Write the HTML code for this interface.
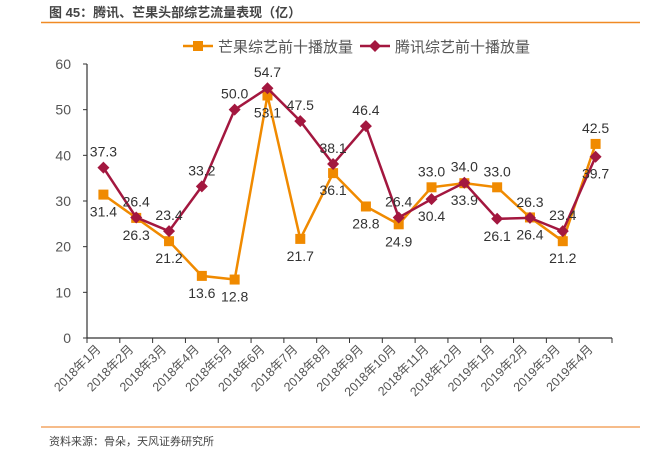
<!DOCTYPE html>
<html><head><meta charset="utf-8"><style>
body{margin:0;background:#fff;width:657px;height:453px;overflow:hidden;font-family:"Liberation Sans","Noto Sans CJK SC",sans-serif}
</style></head><body>
<svg id="c" width="657" height="453" xmlns="http://www.w3.org/2000/svg" font-family="Liberation Sans, Noto Sans CJK SC, sans-serif">
<text x="49" y="17" font-size="13" font-weight="bold" fill="#444">图 45：腾讯、芒果头部综艺流量表现（亿）</text>
<line x1="41" y1="22.5" x2="640" y2="22.5" stroke="#f08a24" stroke-width="1.5"/>
<line x1="41" y1="427" x2="640" y2="427" stroke="#f3a564" stroke-width="1.5"/>
<text x="49" y="445" font-size="11" fill="#444">资料来源：骨朵，天风证券研究所</text>
<g>
<g><line x1="183" y1="46" x2="213" y2="46" stroke="#f08a00" stroke-width="2.5"/><rect x="193" y="41" width="10" height="10" fill="#f08a00"/><text x="218" y="52" font-size="15" fill="#555">芒果综艺前十播放量</text></g>
<g><line x1="360" y1="46" x2="390" y2="46" stroke="#a3173f" stroke-width="2.5"/><polygon points="375,40 381,46 375,52 369,46" fill="#a3173f"/><text x="395" y="52" font-size="15" fill="#555">腾讯综艺前十播放量</text></g>
</g>
<g id="axes"></g><g id="series"></g>
</svg>
<script>
const categories=["2018年1月","2018年2月","2018年3月","2018年4月","2018年5月","2018年6月","2018年7月","2018年8月","2018年9月","2018年10月","2018年11月","2018年12月","2019年1月","2019年2月","2019年3月","2019年4月"];
const mango=[31.4,26.3,21.2,13.6,12.8,53.1,21.7,36.1,28.8,24.9,33.0,33.9,33.0,26.4,21.2,42.5];
const tencent=[37.3,26.4,23.4,33.2,50.0,54.7,47.5,38.1,46.4,26.4,30.4,34.0,26.1,26.3,23.4,39.7];
const yTicks=[0,10,20,30,40,50,60];
// label placement: 1 = above, -1 = below
const mangoPos=[-1,-1,-1,-1,-1,-1,-1,-1,-1,-1,1,-1,1,-1,-1,1];
const tencentPos=[1,1,1,1,1,1,1,1,1,1,-1,1,-1,1,1,-1];
const NS="http://www.w3.org/2000/svg";
const L=87,R=612,T=64,B=338;
const band=(R-L)/categories.length;
const x=i=>L+band*(i+0.5);
const y=v=>B-(v/60)*(B-T);
function mk(tag,attrs,parent){const e=document.createElementNS(NS,tag);for(const k in attrs)e.setAttribute(k,attrs[k]);parent.appendChild(e);return e;}
const ax=document.getElementById('axes');
const yl=mk('line',{x1:L,y1:T,x2:L,y2:B,stroke:'#333','stroke-width':1.2},ax);


const xl=mk('line',{x1:L,y1:B,x2:R,y2:B,stroke:'#333','stroke-width':1.2},ax);


yTicks.forEach(v=>{
 mk('line',{x1:L-4,y1:y(v),x2:L,y2:y(v),stroke:'#333'},ax);
 const t=mk('text',{x:L-16,y:y(v)+5,'font-size':14,fill:'#555','text-anchor':'end'},ax);
 t.textContent=v;
 
 
});
for(let i=0;i<=categories.length;i++){mk('line',{x1:L+band*i,y1:B,x2:L+band*i,y2:B+5,stroke:'#333'},ax);}
categories.forEach((c,i)=>{
 const t=mk('text',{x:x(i)-2,y:B+12,'font-size':12.5,fill:'#555','text-anchor':'end',transform:`rotate(-45 ${x(i)-2} ${B+12})`},ax);
 t.textContent=c;
 
 
});
const sg=document.getElementById('series');
function series(vals,pos,color,name,shape){
 const p=mk('polyline',{points:vals.map((v,i)=>x(i)+','+y(v)).join(' '),fill:'none',stroke:color,'stroke-width':2.5},sg);
 
 
 vals.forEach((v,i)=>{
  let m;
  if(shape==='sq') m=mk('rect',{x:x(i)-5,y:y(v)-5,width:10,height:10,fill:color},sg);
  else m=mk('polygon',{points:`${x(i)},${y(v)-6} ${x(i)+6},${y(v)} ${x(i)},${y(v)+6} ${x(i)-6},${y(v)}`,fill:color},sg);
  
  
  const t=mk('text',{x:x(i),y:pos[i]>0?y(v)-11:y(v)+22,'font-size':14,fill:'#333','text-anchor':'middle'},sg);
  t.textContent=v.toFixed(1);
  
  
 });
}
series(mango,mangoPos,'#f08a00','mango','sq');
series(tencent,tencentPos,'#a3173f','tencent','dia');
</script>
</body></html>
